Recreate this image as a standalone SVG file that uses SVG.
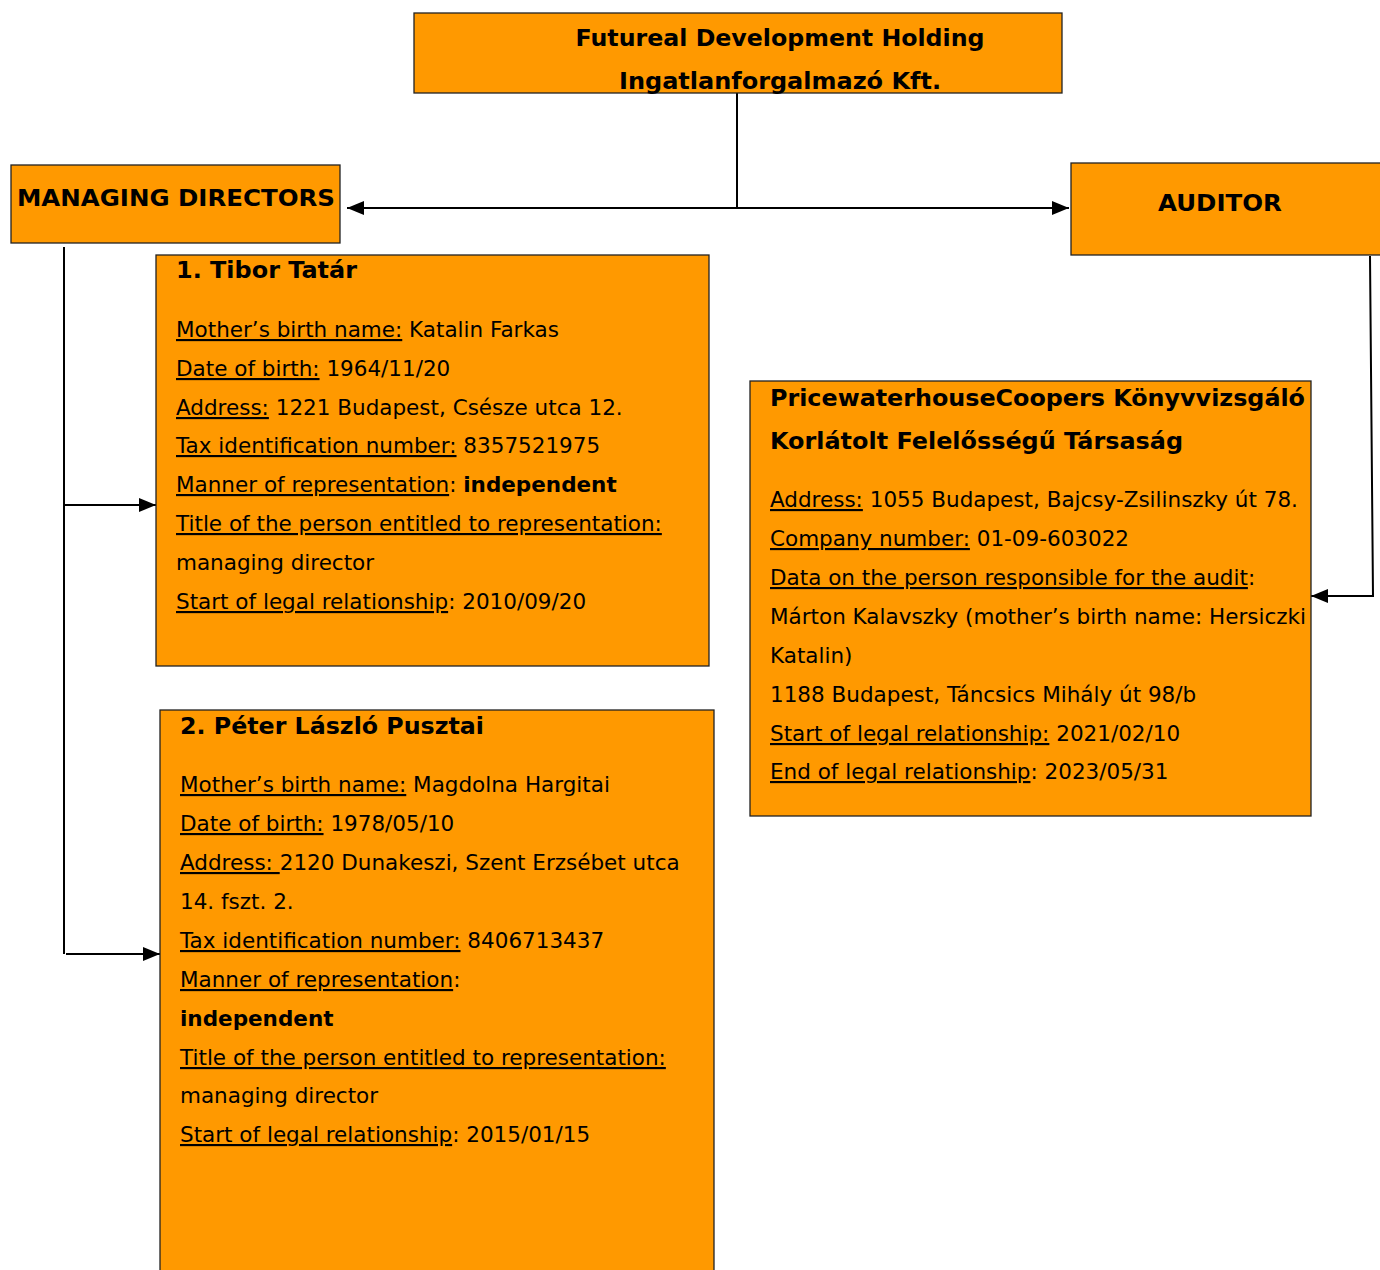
<svg xmlns="http://www.w3.org/2000/svg" width="1380" height="1270" viewBox="0 0 1380 1270">
<style>
.box{fill:#FF9900;stroke:#222;stroke-width:1.3}
.t{font-family:"DejaVu Sans",Verdana,sans-serif;font-size:21.5px;fill:#000}
.b{font-weight:bold}
.h{font-family:"DejaVu Sans",Verdana,sans-serif;font-size:23.5px;font-weight:bold;fill:#000}
.u{text-decoration:underline}
.c{fill:none;stroke:#000;stroke-width:2}
</style>
<defs>
<marker id="ar" markerUnits="userSpaceOnUse" markerWidth="18" markerHeight="16" refX="17" refY="8" orient="auto">
<path d="M0,1 L17,8 L0,15 Z" fill="#000"/>
</marker>
</defs>
<rect width="1380" height="1270" fill="#fff"/>
<g id="connectors">
<path class="c" d="M737,93 V208"/>
<path class="c" d="M737,208 H347" marker-end="url(#ar)"/>
<path class="c" d="M737,208 H1069" marker-end="url(#ar)"/>
<path class="c" d="M64,247 V954"/>
<path class="c" d="M64,505 H156" marker-end="url(#ar)"/>
<path class="c" d="M66,954 H160" marker-end="url(#ar)"/>
<path class="c" d="M1370,256 L1373,596 H1311" marker-end="url(#ar)"/>
</g>
<g id="company">
<rect class="box" x="414" y="13" width="648" height="80"/>
<text class="h" x="780" y="46" text-anchor="middle" textLength="409" lengthAdjust="spacingAndGlyphs">Futureal Development Holding</text>
<text class="h" x="780" y="89" text-anchor="middle" textLength="322" lengthAdjust="spacingAndGlyphs">Ingatlanforgalmazó Kft.</text>
</g>
<g id="managing-directors">
<rect class="box" x="11" y="165" width="329" height="78"/>
<text class="h" x="17" y="206" textLength="318" lengthAdjust="spacingAndGlyphs">MANAGING DIRECTORS</text>
</g>
<g id="auditor">
<rect class="box" x="1071" y="163" width="312" height="92"/>
<text class="h" x="1158" y="211" textLength="124" lengthAdjust="spacingAndGlyphs">AUDITOR</text>
</g>
<g id="director-1">
<rect class="box" x="156" y="255" width="553" height="411"/>
<text class="h" x="176" y="278" textLength="181" lengthAdjust="spacingAndGlyphs">1. Tibor Tatár</text>
<text class="t" x="176" y="337"><tspan class="u">Mother’s birth name:</tspan> Katalin Farkas</text>
<text class="t" x="176" y="376"><tspan class="u">Date of birth:</tspan> 1964/11/20</text>
<text class="t" x="176" y="415"><tspan class="u">Address:</tspan> 1221 Budapest, Csésze utca 12.</text>
<text class="t" x="176" y="453"><tspan class="u">Tax identification number:</tspan> 8357521975</text>
<text class="t" x="176" y="492"><tspan class="u">Manner of representation</tspan>: <tspan class="b">independent</tspan></text>
<text class="t" x="176" y="531"><tspan class="u">Title of the person entitled to representation:</tspan></text>
<text class="t" x="176" y="570">managing director</text>
<text class="t" x="176" y="609"><tspan class="u">Start of legal relationship</tspan>: 2010/09/20</text>
</g>
<g id="director-2">
<rect class="box" x="160" y="710" width="554" height="570"/>
<text class="h" x="180" y="734" textLength="304" lengthAdjust="spacingAndGlyphs">2. Péter László Pusztai</text>
<text class="t" x="180" y="792"><tspan class="u">Mother’s birth name:</tspan> Magdolna Hargitai</text>
<text class="t" x="180" y="831"><tspan class="u">Date of birth:</tspan> 1978/05/10</text>
<text class="t" x="180" y="870"><tspan class="u">Address: </tspan>2120 Dunakeszi, Szent Erzsébet utca</text>
<text class="t" x="180" y="909">14. fszt. 2.</text>
<text class="t" x="180" y="948"><tspan class="u">Tax identification number:</tspan> 8406713437</text>
<text class="t" x="180" y="987"><tspan class="u">Manner of representation</tspan>:</text>
<text class="t b" x="180" y="1026">independent</text>
<text class="t" x="180" y="1065"><tspan class="u">Title of the person entitled to representation:</tspan></text>
<text class="t" x="180" y="1103">managing director</text>
<text class="t" x="180" y="1142"><tspan class="u">Start of legal relationship</tspan>: 2015/01/15</text>
</g>
<g id="auditor-firm">
<rect class="box" x="750" y="381" width="561" height="435"/>
<text class="h" x="770" y="406" textLength="535" lengthAdjust="spacingAndGlyphs">PricewaterhouseCoopers Könyvvizsgáló</text>
<text class="h" x="770" y="449" textLength="413" lengthAdjust="spacingAndGlyphs">Korlátolt Felelősségű Társaság</text>
<text class="t" x="770" y="507"><tspan class="u">Address:</tspan> 1055 Budapest, Bajcsy-Zsilinszky út 78.</text>
<text class="t" x="770" y="546"><tspan class="u">Company number:</tspan> 01-09-603022</text>
<text class="t" x="770" y="585"><tspan class="u">Data on the person responsible for the audit</tspan>:</text>
<text class="t" x="770" y="624">Márton Kalavszky (mother’s birth name: Hersiczki</text>
<text class="t" x="770" y="663">Katalin)</text>
<text class="t" x="770" y="702">1188 Budapest, Táncsics Mihály út 98/b</text>
<text class="t" x="770" y="741"><tspan class="u">Start of legal relationship:</tspan> 2021/02/10</text>
<text class="t" x="770" y="779"><tspan class="u">End of legal relationship</tspan>: 2023/05/31</text>
</g>
</svg>
